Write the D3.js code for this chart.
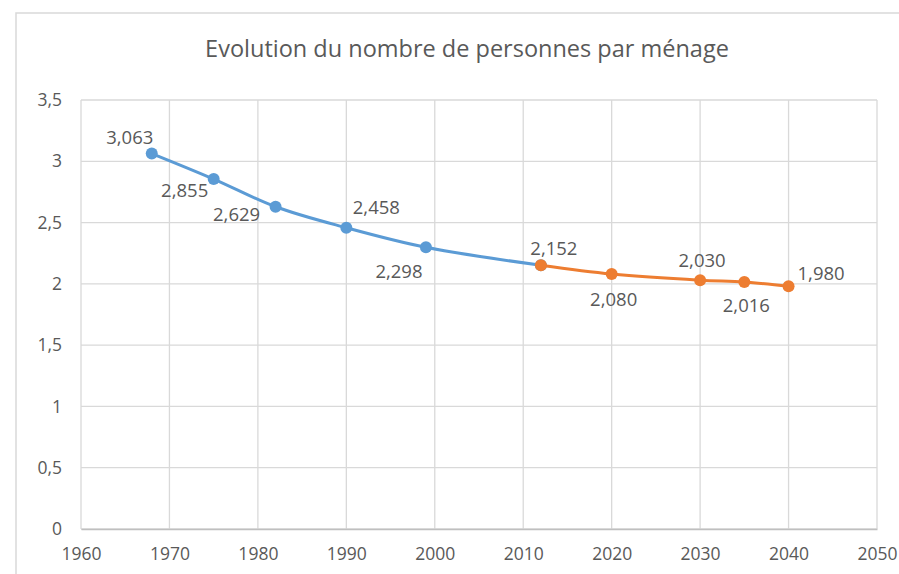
<!DOCTYPE html>
<html>
<head>
<meta charset="utf-8">
<script src="https://cdn.jsdelivr.net/npm/d3@7"></script>
<style>
  body { margin: 0; background: #fff; }
  text { font-family: "Open Sans", "Noto Sans", sans-serif; fill: #595959; }
</style>
</head>
<body>
<div id="vis"></div>
<script>
// observed values (blue) and projections (orange)
const obsYears = [1968, 1975, 1982, 1990, 1999, 2012]
const obsValues = [3.063, 2.855, 2.629, 2.458, 2.298, 2.152]
const projYears = [2012, 2020, 2030, 2035, 2040]
const projValues = [2.152, 2.080, 2.030, 2.016, 1.980]
const xTicks = [1960, 1970, 1980, 1990, 2000, 2010, 2020, 2030, 2040, 2050]
const yTicks = [0, 0.5, 1, 1.5, 2, 2.5, 3, 3.5]
const title = 'Evolution du nombre de personnes par ménage'

// label offsets from each point (dx, dy, anchor), null = no label
const obsLabelOff = [[-22, -16, 'middle'], [-29, 11, 'middle'], [-39, 8, 'middle'],
                     [30, -20, 'middle'], [-27, 24, 'middle'], null]
const projLabelOff = [[13, -17, 'middle'], [2, 25, 'middle'], [2, -20, 'middle'],
                      [2, 24, 'middle'], [9, -13, 'start']]

const width = 899, height = 574
const margin = {left: 81, top: 100, right: 22, bottom: 45}

const svg = d3.select('#vis').append('svg')
    .attr('width', width)
    .attr('height', height)

// chart frame
svg.append('rect')
    .attr('x', 16).attr('y', 13)
    .attr('width', 900).attr('height', 600)
    .attr('fill', 'none')
    .attr('stroke', '#d9d9d9')
    .attr('stroke-width', 1.5)

const x = d3.scaleLinear([1960, 2050], [margin.left, width - margin.right])
const y = d3.scaleLinear([0, 3.5], [height - margin.bottom, margin.top])

// gridlines
svg.append('g')
    .selectAll('line')
    .data(yTicks)
    .join('line')
        .attr('x1', x(1960)).attr('x2', x(2050))
        .attr('y1', d => y(d)).attr('y2', d => y(d))
        .attr('stroke', '#d9d9d9')
        .attr('stroke-width', 1.3)

svg.append('g')
    .selectAll('line')
    .data(xTicks)
    .join('line')
        .attr('x1', d => x(d)).attr('x2', d => x(d))
        .attr('y1', y(0)).attr('y2', y(3.5))
        .attr('stroke', '#d9d9d9')
        .attr('stroke-width', 1.3)

let fmt = d => String(d).replace('.', ',')

let yAxis = d3.axisLeft(y).tickValues(yTicks).tickSize(0).tickPadding(19).tickFormat(fmt)
svg.append('g')
    .attr('transform', `translate(${x(1960)}, 0)`)
    .call(yAxis)
    .call(g => g.select('.domain').remove())
    .call(g => g.selectAll('text').attr('font-size', 17.5).attr('fill', '#595959'))

let xAxis = d3.axisBottom(x).tickValues(xTicks).tickSize(0).tickPadding(19).tickFormat(d3.format('d'))
svg.append('g')
    .attr('transform', `translate(0, ${y(0)})`)
    .call(xAxis)
    .call(g => g.select('.domain').attr('stroke', '#bfbfbf').attr('stroke-width', 1.3))
    .call(g => g.selectAll('text').attr('font-size', 17.5).attr('fill', '#595959'))

svg.append('text')
    .attr('x', 467).attr('y', 57)
    .attr('text-anchor', 'middle')
    .attr('font-size', 23.5)
    .text(title)

const line = d3.line()
    .x(d => x(d[0]))
    .y(d => y(d[1]))
    .curve(d3.curveCatmullRom.alpha(0.5))

function drawSeries(years, values, color, labelOff) {
    let pts = years.map((yr, i) => ({year: yr, value: values[i], off: labelOff[i]}))
    svg.append('path')
        .datum(pts)
        .attr('d', line.x(d => x(d.year)).y(d => y(d.value)))
        .attr('fill', 'none')
        .attr('stroke', color)
        .attr('stroke-width', 3)

    svg.append('g')
        .selectAll('circle')
        .data(pts)
        .join('circle')
            .attr('cx', d => x(d.year))
            .attr('cy', d => y(d.value))
            .attr('r', 6)
            .attr('fill', color)

    svg.append('g')
        .selectAll('text')
        .data(pts.filter(d => d.off))
        .join('text')
            .attr('x', d => x(d.year) + d.off[0])
            .attr('y', d => y(d.value) + d.off[1])
            .attr('text-anchor', d => d.off[2])
            .attr('dy', '0.35em')
            .attr('font-size', 18.5)
            .text(d => d.value.toFixed(3).replace('.', ','))
}

drawSeries(obsYears, obsValues, '#5b9bd5', obsLabelOff)
drawSeries(projYears, projValues, '#ed7d31', projLabelOff)
</script>
</body>
</html>
